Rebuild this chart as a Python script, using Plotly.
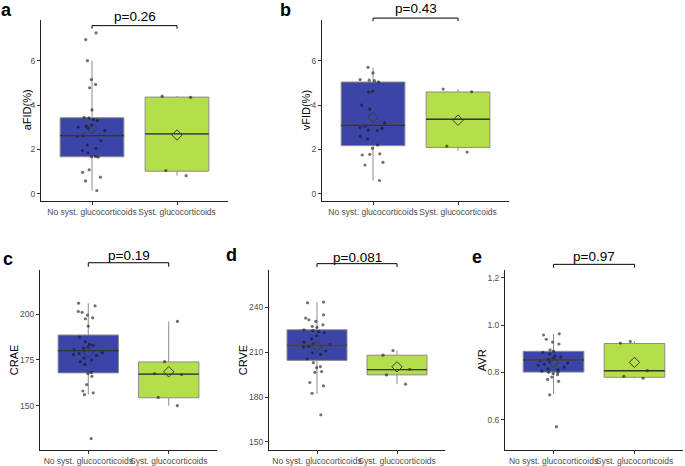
import plotly.graph_objects as go

W, H = 685, 466
FONT = "Liberation Sans"

groups = ["No syst. glucocorticoids", "Syst. glucocorticoids"]
fills = ["#3A45A7", "#B4DF4B"]

# ---- panel a: aFID(%)
a_no = [7.25, 6.95, 6.0, 5.15, 4.93, 4.78, 3.78, 3.45, 3.42, 3.35, 3.3, 3.1, 3.05, 3.0, 2.95,
        2.85, 2.62, 2.6, 2.4, 2.2, 2.05, 1.95, 1.85, 1.68, 1.67, 1.65, 1.08, 0.97, 0.75, 0.58, 0.15]
a_sys = [4.4, 4.35, 1.05, 0.82]
a_q1 = [1.67, 1.02]
a_med = [2.62, 2.70]
a_q3 = [3.43, 4.36]
a_lo = [0.15, 0.82]
a_hi = [6.0, 4.4]
a_mean = [2.95, 2.65]

# ---- panel b: vFID(%)
b_no = [5.7, 5.45, 5.15, 5.12, 5.1, 5.05, 4.62, 4.58, 4.0, 3.82, 3.2, 3.05, 2.98, 2.95, 2.88,
        2.85, 2.6, 2.47, 2.2, 2.05, 1.8, 1.78, 1.75, 1.42, 1.3, 0.6]
b_sys = [4.72, 4.6, 2.15, 1.88]
b_q1 = [2.17, 2.09]
b_med = [3.09, 3.36]
b_q3 = [5.04, 4.59]
b_lo = [0.6, 1.93]
b_hi = [5.68, 4.72]
b_mean = [3.44, 3.32]

# ---- panel c: CRAE
c_no = [206, 204.5, 201.5, 201, 199.5, 198, 197.5, 193.5, 187.5, 185, 183.5, 183, 182, 181.5,
        180.5, 180, 179, 178.5, 178, 177.5, 176, 175, 174, 172.5, 168, 167.5, 166, 161.5, 158,
        157, 156, 132]
c_sys = [196, 174, 167.5, 167, 154.5, 150]
c_q1 = [167.9, 154.3]
c_med = [180.0, 167.2]
c_q3 = [188.6, 173.9]
c_lo = [156.0, 150.0]
c_hi = [206.0, 196.0]
c_mean = [179.0, 168.5]

# ---- panel d: CRVE
d_no = [243.5, 243.0, 235, 232.8, 231.7, 230.6, 228.3, 227.3, 226.6, 225, 224.5, 223.7, 223,
        221, 218.9, 216.7, 215.5, 215, 214, 213.5, 210.7, 209.6, 208.5, 205.6, 203, 200.3,
        199.6, 197, 196.5, 189.7, 187.5, 182.5, 168.1]
d_sys = [211.1, 208, 198.5, 194.8, 188.6]
d_q1 = [204.5, 194.8]
d_med = [214.7, 198.3]
d_q3 = [225.0, 208.0]
d_lo = [182.0, 188.6]
d_hi = [243.5, 211.1]
d_mean = [214.0, 200.2]

# ---- panel e: AVR
e_no = [0.963, 0.958, 0.94, 0.928, 0.92, 0.895, 0.89, 0.885, 0.878, 0.87, 0.865, 0.86, 0.855,
        0.85, 0.845, 0.84, 0.835, 0.83, 0.822, 0.815, 0.81, 0.805, 0.8, 0.8, 0.795, 0.79, 0.78,
        0.77, 0.762, 0.705, 0.57]
e_sys = [0.931, 0.924, 0.807, 0.783, 0.775]
e_q1 = [0.801, 0.779]
e_med = [0.852, 0.807]
e_q3 = [0.889, 0.922]
e_lo = [0.708, 0.775]
e_hi = [0.963, 0.931]
e_mean = [0.843, 0.842]

letters = ["a", "b", "c", "d", "e"]
y_titles = ["aFID(%)", "vFID(%)", "CRAE", "CRVE", "AVR"]
p_labels = ["p=0.26", "p=0.43", "p=0.19", "p=0.081", "p=0.97"]
y_ranges = [[-0.31, 7.84], [-0.31, 7.84], [125.7, 224.0], [144.5, 264.8], [0.471, 1.232]]
y_ticks = [[0, 2, 4, 6], [0, 2, 4, 6], [150, 175, 200], [150, 180, 210, 240], [0.6, 0.8, 1.0, 1.2]]
y_tickfmt = ["", "", "", "", ".1f"]
bracket_y = [7.58, 7.92, 228.1, 269.2, 1.257]
bracket_tip = [7.44, 7.78, 225.9, 267.0, 1.243]
ptext_y = [7.97, 8.37, 232.2, 273.6, 1.289]

panels = [
    (a_no, a_sys, a_q1, a_med, a_q3, a_lo, a_hi, a_mean),
    (b_no, b_sys, b_q1, b_med, b_q3, b_lo, b_hi, b_mean),
    (c_no, c_sys, c_q1, c_med, c_q3, c_lo, c_hi, c_mean),
    (d_no, d_sys, d_q1, d_med, d_q3, d_lo, d_hi, d_mean),
    (e_no, e_sys, e_q1, e_med, e_q3, e_lo, e_hi, e_mean),
]

# pixel layout of each panel: (left, right, top, bottom)
boxes_px = [(41, 228, 20, 202), (322, 509, 20, 202),
            (40, 217, 272, 453), (269, 445, 272, 453), (505, 683, 272, 453)]
letter_px = [(6, 10), (285, 10), (8, 261), (231, 257), (477, 259)]
ytitle_px = [27, 306, 14, 243, 482]

x_range = [-0.6, 1.6]
BOX_W = 0.75
positions = list(range(len(groups)))


def px_x(px):
    return px / W


def px_y(py):
    return 1 - py / H


def frac(v, r):
    return (v - r[0]) / (r[1] - r[0])


fig = go.Figure()
layout = dict(
    width=W, height=H, margin=dict(l=0, r=0, t=0, b=0),
    paper_bgcolor="white", plot_bgcolor="white",
    showlegend=False, boxmode="overlay",
    font=dict(family=FONT, color="black"),
)
shapes, annotations = [], []

for i, (no, sys_, q1, med, q3, lo, hi, mean) in enumerate(panels):
    n = "" if i == 0 else str(i + 1)
    xa, ya = "x" + n, "y" + n
    L, R, T, B = boxes_px[i]
    samples = [no, sys_]
    for g, pos in enumerate(positions):
        fig.add_trace(go.Box(
            x=[pos], q1=[q1[g]], median=[med[g]], q3=[q3[g]],
            lowerfence=[lo[g]], upperfence=[hi[g]],
            width=BOX_W, whiskerwidth=0, boxpoints=False,
            fillcolor=fills[g], line=dict(color="#8C8C8C", width=1),
            xaxis=xa, yaxis=ya, hoverinfo="skip"))
        fig.add_trace(go.Scatter(
            x=[pos - BOX_W / 2, pos + BOX_W / 2], y=[med[g], med[g]], mode="lines",
            line=dict(color="#333333", width=1.4), xaxis=xa, yaxis=ya, hoverinfo="skip"))
        fig.add_trace(go.Box(
            y=samples[g], x0=pos, width=BOX_W, boxpoints="all", jitter=0.55, pointpos=0,
            fillcolor="rgba(0,0,0,0)", line=dict(color="rgba(0,0,0,0)", width=0),
            whiskerwidth=0,
            marker=dict(color="rgba(20,20,20,0.6)", size=3.2, line=dict(width=0)),
            xaxis=xa, yaxis=ya, hoverinfo="skip"))
    fig.add_trace(go.Scatter(
        x=positions, y=mean, mode="markers",
        marker=dict(symbol="diamond-open", size=8, color="#3a3a3a", line=dict(width=1)),
        xaxis=xa, yaxis=ya, hoverinfo="skip"))

    yr = y_ranges[i]
    layout["xaxis" + n] = dict(
        domain=[px_x(L), px_x(R)], anchor=ya, range=x_range,
        tickvals=positions, ticktext=groups, tickangle=0,
        showline=True, linecolor="#222", linewidth=1, mirror=False,
        ticks="outside", ticklen=3, tickcolor="#333", tickwidth=1,
        showgrid=False, zeroline=False,
        tickfont=dict(family=FONT, size=8.5, color="#4D4D4D"))
    layout["yaxis" + n] = dict(
        domain=[px_y(B), px_y(T)], anchor=xa, range=yr,
        tickvals=y_ticks[i], tickformat=y_tickfmt[i],
        showline=True, linecolor="#222", linewidth=1,
        ticks="outside", ticklen=3, tickcolor="#333", tickwidth=1,
        showgrid=False, zeroline=False,
        tickfont=dict(family=FONT, size=8.5, color="#4D4D4D"))

    # y-axis title
    annotations.append(dict(
        xref="paper", yref="paper", x=px_x(ytitle_px[i]), y=px_y((T + B) / 2),
        text=y_titles[i], textangle=-90, showarrow=False,
        xanchor="center", yanchor="middle",
        font=dict(family=FONT, size=11, color="black")))

    # comparison bracket and p-value
    xd, yd = xa + " domain", ya + " domain"
    x0, x1 = frac(positions[0], x_range), frac(positions[1], x_range)
    yb, yt = frac(bracket_y[i], yr), frac(bracket_tip[i], yr)
    for (sx0, sy0, sx1, sy1) in [(x0, yt, x0, yb), (x0, yb, x1, yb), (x1, yb, x1, yt)]:
        shapes.append(dict(type="line", xref=xd, yref=yd, x0=sx0, y0=sy0, x1=sx1, y1=sy1,
                           line=dict(color="black", width=1)))
    annotations.append(dict(
        xref=xd, yref=yd, x=(x0 + x1) / 2, y=frac(ptext_y[i], yr),
        text=p_labels[i], showarrow=False, xanchor="center", yanchor="middle",
        font=dict(family=FONT, size=13.5, color="black")))
    lx, ly = letter_px[i]
    annotations.append(dict(
        xref="paper", yref="paper", x=px_x(lx), y=px_y(ly), text="<b>" + letters[i] + "</b>",
        showarrow=False, xanchor="center", yanchor="middle",
        font=dict(family=FONT, size=18, color="black")))

layout["shapes"] = shapes
layout["annotations"] = annotations
fig.update_layout(**layout)
fig.write_html("out.html", config={"displayModeBar": False},
               post_script="document.body.style.margin='0px';")
